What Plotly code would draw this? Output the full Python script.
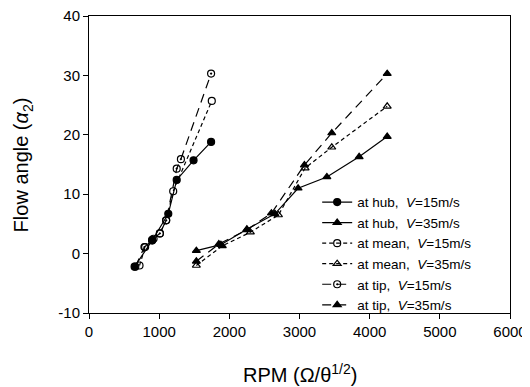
import plotly.graph_objects as go

hub15_x = [650, 900, 1130, 1250, 1490, 1740]
hub15_y = [-2.2, 2.2, 6.7, 12.4, 15.7, 18.8]
hub35_x = [1530, 1880, 2250, 2650, 2980, 3390, 3850, 4250]
hub35_y = [0.5, 1.5, 4.1, 6.7, 11.0, 12.9, 16.3, 19.7]
mean15_x = [720, 800, 920, 1010, 1100, 1200, 1750]
mean15_y = [-2.0, 1.1, 2.5, 3.4, 5.6, 10.5, 25.7]
mean35_x = [1530, 1900, 2300, 2700, 3080, 3460, 4250]
mean35_y = [-2.0, 1.3, 3.6, 6.5, 14.4, 17.9, 24.8]
tip15_x = [660, 790, 900, 1010, 1100, 1250, 1310, 1740]
tip15_y = [-2.2, 1.1, 2.3, 3.4, 5.6, 14.3, 15.9, 30.3]
tip35_x = [1530, 1850, 2250, 2600, 3070, 3460, 4250]
tip35_y = [-1.3, 1.6, 4.0, 6.8, 14.9, 20.3, 30.3]

x_ticks = [0, 1000, 2000, 3000, 4000, 5000, 6000]
y_ticks = [-10, 0, 10, 20, 30, 40]
y_ticklabels = ["-10", "0", "10", "20", "30", "40"]

series = [
    ("at hub,  <i>V</i>=15m/s", hub15_x, hub15_y, "solid", "circle"),
    ("at hub,  <i>V</i>=35m/s", hub35_x, hub35_y, "solid", "triangle-up"),
    ("at mean,  <i>V</i>=15m/s", mean15_x, mean15_y, "4px,3px", "circle-open"),
    ("at mean,  <i>V</i>=35m/s", mean35_x, mean35_y, "4px,3px", "triangle-up-open"),
    ("at tip,  <i>V</i>=15m/s", tip15_x, tip15_y, "9px,6px", "circle-open-dot"),
    ("at tip,  <i>V</i>=35m/s", tip35_x, tip35_y, "9px,6px", "triangle-up"),
]

fig = go.Figure()
for name, xs, ys, dash, sym in series:
    fig.add_trace(go.Scatter(
        x=xs, y=ys, name=name, mode="lines+markers",
        line=dict(color="black", width=1.2, dash=dash),
        marker=dict(symbol=sym, size=7, color="black",
                    line=dict(color="black", width=1.2)),
    ))

axis_common = dict(
    showgrid=False, zeroline=False, showline=True, linecolor="black",
    linewidth=1, mirror=True, ticks="outside", ticklen=5, automargin=False,
    ticklabeloverflow="allow",
    tickcolor="black", tickfont=dict(family="Liberation Sans, Arial", size=15, color="black"),
)

# page body has an 8px margin, so the figure is sized/offset to compensate
fig.update_layout(
    width=522, height=379,
    margin=dict(l=81, r=20, t=8, b=74),
    plot_bgcolor="white", paper_bgcolor="white",
    font=dict(family="Liberation Sans, Arial", color="black"),
    xaxis=dict(range=[0, 6000], tickvals=x_ticks, **axis_common),
    yaxis=dict(range=[-10, 40], tickvals=y_ticks, ticktext=y_ticklabels, **axis_common),
    legend=dict(x=0.542, y=0.425, xanchor="left", yanchor="top",
                bgcolor="rgba(0,0,0,0)", font=dict(size=13.5),
                tracegroupgap=0),
    showlegend=True,
    annotations=[
        dict(text="RPM (Ω/θ<sup>1/2</sup>)", xref="paper", yref="paper",
             x=0.5, y=-0.205, xanchor="center", yanchor="middle",
             showarrow=False, font=dict(size=20)),
        dict(text="Flow angle (<i>α</i><sub>2</sub>)", xref="paper", yref="paper",
             x=-0.157, y=0.5, xanchor="center", yanchor="middle", textangle=-90,
             showarrow=False, font=dict(size=20)),
    ],
)

fig.write_html("out.html")
